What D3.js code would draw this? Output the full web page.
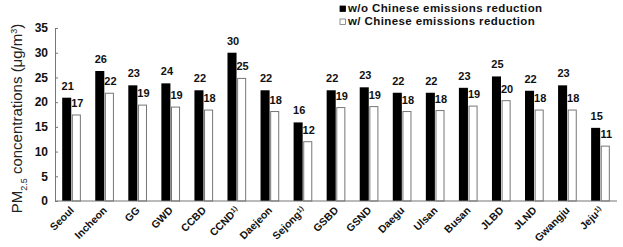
<!DOCTYPE html>
<html>
<head>
<meta charset="utf-8">
<script src="https://cdn.jsdelivr.net/npm/d3@7"></script>
<style>
    body { margin: 0; background: #fff; }
    text { font-family: "Liberation Sans", Arial, sans-serif; }
    .tick text { font-size: 12px; font-weight: bold; fill: #111; }
    .bar_label { font-size: 11px; font-weight: bold; fill: #111; }
    .x_label { font-size: 10.5px; font-weight: bold; fill: #111; }
    .legend { font-size: 11.5px; font-weight: bold; fill: #111; letter-spacing: 0.4px; }
</style>
</head>
<body>
<svg id="chart" width="623" height="247"></svg>
<script>
// regions (x axis), a "1)" mark is added for the flagged ones
var regions = ["Seoul", "Incheon", "GG", "GWD", "CCBD", "CCND", "Daejeon", "Sejong",
    "GSBD", "GSND", "Daegu", "Ulsan", "Busan", "JLBD", "JLND", "Gwangju", "Jeju"];
var footnoted = ["CCND", "Sejong", "Jeju"];

// PM2.5 concentrations (ug/m3)
var withoutReduction = [20.9, 26.3, 23.4, 23.8, 22.4, 30.0, 22.4, 15.9,
    22.4, 23.0, 21.9, 21.9, 22.9, 25.2, 22.3, 23.4, 14.8];
var withReduction = [17.4, 21.8, 19.4, 19.0, 18.4, 24.8, 18.1, 12.0,
    18.9, 19.1, 18.1, 18.3, 19.2, 20.3, 18.4, 18.4, 11.1];

var seriesNames = ["w/o Chinese emissions reduction", "w/ Chinese emissions reduction"];
var yTicks = [0, 5, 10, 15, 20, 25, 30, 35];

var svg = d3.select("#chart");
var margin = {left: 55, right: 6, top: 28, bottom: 46};
var width = 623 - margin.left - margin.right;
var height = 201 - margin.top;

var data = regions.map(function (r, i) {
    return {region: r, values: [withoutReduction[i], withReduction[i]]};
});

var x0 = d3.scaleBand()
    .domain(regions)
    .range([margin.left, margin.left + width])
    .paddingInner(0.4)
    .paddingOuter(0.2);

var x1 = d3.scaleBand()
    .domain([0, 1])
    .range([0, x0.bandwidth()])
    .padding(0.06);

var y = d3.scaleLinear()
    .domain([0, 35])
    .range([margin.top + height, margin.top]);

// y axis
var yAxis = svg.append("g")
    .attr("transform", "translate(" + margin.left + ",0)")
    .call(d3.axisLeft(y).tickValues(yTicks).tickSize(-3).tickPadding(7));
yAxis.select(".domain").attr("stroke", "#777");
yAxis.selectAll(".tick line").attr("stroke", "#777");

// bars
var groups = svg.selectAll(".group")
    .data(data)
    .enter()
    .append("g")
    .attr("class", "group")
    .attr("transform", d => "translate(" + x0(d.region) + ",0)");

groups.selectAll("rect")
    .data(d => d.values.map((v, k) => ({k: k, v: v})))
    .enter()
    .append("rect")
    .attr("x", d => x1(d.k) + (d.k === 1 ? 0.5 : 0))
    .attr("y", d => y(d.v))
    .attr("width", d => x1.bandwidth() - (d.k === 1 ? 1 : 0))
    .attr("height", d => y(0) - y(d.v))
    .attr("fill", d => d.k === 0 ? "#000" : "#fff")
    .attr("stroke", d => d.k === 0 ? "none" : "#777")
    .attr("stroke-width", 1);

groups.selectAll(".bar_label")
    .data(d => d.values.map((v, k) => ({k: k, v: v})))
    .enter()
    .append("text")
    .attr("class", "bar_label")
    .attr("x", d => x1(d.k) + x1.bandwidth() / 2 + 1)
    .attr("y", d => y(d.v) - 8)
    .attr("text-anchor", "middle")
    .text(d => Math.round(d.v));

// x axis line
svg.append("line")
    .attr("x1", margin.left)
    .attr("x2", margin.left + width)
    .attr("y1", y(0))
    .attr("y2", y(0))
    .attr("stroke", "#777")
    .attr("stroke-width", 1.2);

// rotated region labels
var xl = svg.selectAll(".x_label")
    .data(regions)
    .enter()
    .append("text")
    .attr("class", "x_label")
    .attr("text-anchor", "end")
    .attr("transform", d => "translate(" + (x0(d) + x0.bandwidth() / 2 + 3) + "," + (y(0) + 10) + ") rotate(-45)");
xl.append("tspan").text(d => d);
xl.filter(d => footnoted.indexOf(d) >= 0)
    .append("tspan")
    .attr("font-size", "7px")
    .attr("baseline-shift", "super")
    .text("1)");

// y axis title
var yt = svg.append("text")
    .attr("transform", "translate(22," + (margin.top + height / 2 + 4) + ") rotate(-90)")
    .attr("text-anchor", "middle")
    .style("font-size", "15px")
    .style("fill", "#222");
yt.append("tspan").text("PM");
yt.append("tspan").attr("font-size", "9px").attr("baseline-shift", "sub").text("2.5");
yt.append("tspan").text(" concentrations (μg/m");
yt.append("tspan").attr("font-size", "9px").attr("baseline-shift", "super").text("3");
yt.append("tspan").text(")");

// legend
var legend = svg.selectAll(".legend_item")
    .data(seriesNames)
    .enter()
    .append("g")
    .attr("transform", (d, i) => "translate(340," + (6 + i * 13) + ")");
legend.append("rect")
    .attr("width", 5.5)
    .attr("height", 5.5)
    .attr("fill", (d, i) => i === 0 ? "#000" : "#fff")
    .attr("stroke", (d, i) => i === 0 ? "#000" : "#777")
    .attr("stroke-width", 0.8);
legend.append("text")
    .attr("class", "legend")
    .attr("x", 8)
    .attr("y", 6)
    .text(d => d);
</script>
</body>
</html>
